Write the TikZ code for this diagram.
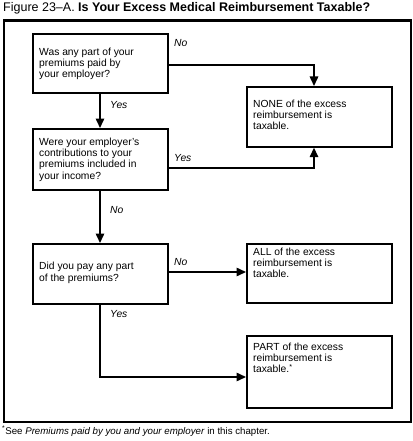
\documentclass[tikz,border=0pt]{standalone}
\usepackage{fontspec}
\setmainfont{Liberation Sans}
\usetikzlibrary{arrows.meta}
\begin{document}
\begin{tikzpicture}[x=1pt,y=-1pt,
  box/.style={draw,line width=1.7pt,inner sep=0pt,anchor=north west},
  txt/.style={anchor=base west,align=left,inner sep=0pt,font=\fontsize{10.3pt}{11.2pt}\selectfont},
  lbl/.style={anchor=base west,inner sep=0pt,font=\fontsize{10.3pt}{11.2pt}\selectfont\itshape},
  conn/.style={line width=1.5pt,-{Triangle[width=8.5pt,length=9.5pt]}}]
\useasboundingbox (0,0) rectangle (412,441);
\node[anchor=base west,inner sep=0pt,font=\fontsize{12.5pt}{14pt}\selectfont] (title) at (3,12) {Figure 23--A. \textbf{Is Your Excess Medical Reimbursement Taxable?}};
\node[draw,line width=2.4pt,inner sep=0pt,anchor=north west,minimum width=407.5pt,minimum height=401.5pt] (frame) at (2.5,19.5) {};
% boxes
\node[box,minimum width=135pt,minimum height=59pt] (q1) at (32,33) {};
\node[box,minimum width=135pt,minimum height=61pt] (q2) at (32,128) {};
\node[box,minimum width=135pt,minimum height=60pt] (q3) at (32,243) {};
\node[box,minimum width=145pt,minimum height=60pt] (none) at (246,86) {};
\node[box,minimum width=145pt,minimum height=59pt] (all) at (246,243) {};
\node[box,minimum width=145pt,minimum height=72pt] (part) at (246,335) {};
% texts (anchored at the baseline of the last line)
\node[txt] (t1) at (39,77.9) {Was any part of your\\premiums paid by\\your employer?};
\node[txt] (t2) at (39,179.1) {Were your employer's\\contributions to your\\premiums included in\\your income?};
\node[txt] (t3) at (39,281) {Did you pay any part\\of the premiums?};
\node[txt] (tn) at (253,129.9) {NONE of the excess\\reimbursement is\\taxable.};
\node[txt] (ta) at (253,277.9) {ALL of the excess\\reimbursement is\\taxable.};
\node[txt] (tp) at (253,372.9) {PART of the excess\\reimbursement is\\taxable.\textsuperscript{*}};
% connectors
\coordinate (c1) at (314,65);
\coordinate (c2) at (314,168);
\coordinate (c3) at (100,377);
\draw[conn] (q1.east |- c1) -- (c1) -- (none.north -| c1);
\draw[conn] (q2.east |- c2) -- (c2) -- (none.south -| c2);
\draw[conn] (q1.south -| c3) -- (q2.north -| c3);
\draw[conn] (q2.south -| c3) -- (q3.north -| c3);
\draw[conn] (q3.east |- 0,272) -- (all.west |- 0,272);
\draw[conn] (q3.south -| c3) -- (c3) -- (part.west |- c3);
% labels
\node[lbl] (l1) at (174,47) {No};
\node[lbl] (l2) at (110,108) {Yes};
\node[lbl] (l3) at (174,161) {Yes};
\node[lbl] (l4) at (110,213) {No};
\node[lbl] (l5) at (174,265) {No};
\node[lbl] (l6) at (110,317) {Yes};
% footnote
\node[anchor=base west,inner sep=0pt,font=\fontsize{9.7pt}{11pt}\selectfont] (fn) at (2,434) {\textsuperscript{*}See \textit{Premiums paid by you and your employer} in this chapter.};
\end{tikzpicture}
\end{document}
